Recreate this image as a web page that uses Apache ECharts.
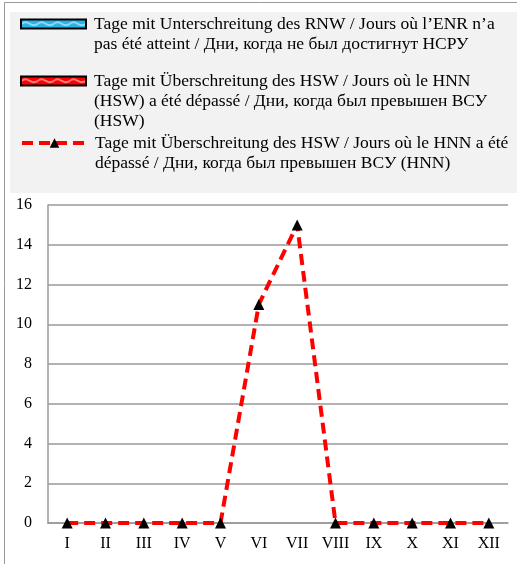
<!DOCTYPE html>
<html>
<head>
<meta charset="utf-8">
<script src="https://cdn.jsdelivr.net/npm/echarts@6/dist/echarts.min.js"></script>
<style>
html, body { margin: 0; padding: 0; background: #fff; }
#main { width: 517px; height: 564px; }
</style>
</head>
<body>
<div id="main"></div>
<script>
var months = ['I', 'II', 'III', 'IV', 'V', 'VI', 'VII', 'VIII', 'IX', 'X', 'XI', 'XII'];
var belowRnw = [0, 0, 0, 0, 0, 0, 0, 0, 0, 0, 0, 0];
var aboveHswBars = [0, 0, 0, 0, 0, 0, 0, 0, 0, 0, 0, 0];
var aboveHnn = [0, 0, 0, 0, 0, 11, 15, 0, 0, 0, 0, 0];
var yTicks = { min: 0, max: 16, step: 2 };

var nameRnw = 'Tage mit Unterschreitung des RNW / Jours où l’ENR n’a\npas été atteint / Дни, когда не был достигнут НСРУ';
var nameHsw = 'Tage mit Überschreitung des HSW / Jours où le HNN\n(HSW) a été dépassé / Дни, когда был превышен ВСУ\n(HSW)';
var nameHnn = 'Tage mit Überschreitung des HSW / Jours où le HNN a été\ndépassé / Дни, когда был превышен ВСУ (HNN)';

// wavy fill like the office pattern swatches
function wavePattern(bg) {
    var c = document.createElement('canvas');
    c.width = 16; c.height = 8;
    var ctx = c.getContext('2d');
    ctx.fillStyle = bg;
    ctx.fillRect(0, 0, 16, 8);
    ctx.strokeStyle = '#fff';
    ctx.lineWidth = 1;
    ctx.beginPath();
    ctx.moveTo(0, 5);
    ctx.quadraticCurveTo(4, 1, 8, 4);
    ctx.quadraticCurveTo(12, 7, 16, 5);
    ctx.stroke();
    return c;
}
var bluePat = { image: wavePattern('#27b4ea'), repeat: 'repeat' };
var redPat = { image: wavePattern('#ff0000'), repeat: 'repeat' };

// legend text is centred on the icon; push it down so the first line sits beside the icon
function topAligned(name) {
    var n = name.split('\n').length;
    return new Array(n).join('\n') + name;
}

var myChart = echarts.init(document.getElementById('main'));

var legendText = {
    fontFamily: 'Liberation Serif',
    fontSize: 17.5,
    lineHeight: 20,
    color: '#000',
    padding: [0, 0, 0, 3]
};

option = {
    backgroundColor: '#fff',
    animation: false,
    graphic: [
        {
            type: 'polyline', z: 0,
            shape: { points: [[4.5, 564], [4.5, 2.5], [517, 2.5]] },
            style: { stroke: '#999', fill: null, lineWidth: 1 }
        },
        {
            type: 'rect', z: 0,
            shape: { x: 10, y: 12, width: 507, height: 181 },
            style: { fill: '#f2f2f2' }
        }
    ],
    legend: [
        {
            left: 20, top: -6, padding: 0,
            itemWidth: 65, itemHeight: 9,
            formatter: topAligned,
            data: [{ name: nameRnw, icon: 'rect',
                     itemStyle: { borderColor: '#000', borderWidth: 2 } }],
            textStyle: legendText
        },
        {
            left: 20, top: 31, padding: 0,
            itemWidth: 65, itemHeight: 9,
            formatter: topAligned,
            data: [{ name: nameHsw, icon: 'rect',
                     itemStyle: { borderColor: '#000', borderWidth: 2 } }],
            textStyle: legendText
        },
        {
            left: 20, top: 113, padding: 0,
            itemWidth: 65, itemHeight: 12,
            formatter: topAligned,
            lineStyle: { width: 4 },
            data: [{ name: nameHnn }],
            textStyle: legendText
        }
    ],
    grid: {
        left: 48,
        right: 9,
        top: 205,
        bottom: 41
    },
    xAxis: {
        type: 'category',
        data: months,
        axisTick: { show: false },
        axisLine: { lineStyle: { color: '#999', width: 1.5 } },
        axisLabel: {
            margin: 13,
            interval: 0,
            fontFamily: 'Liberation Serif',
            fontSize: 16,
            color: '#000'
        }
    },
    yAxis: {
        type: 'value',
        min: yTicks.min,
        max: yTicks.max,
        interval: yTicks.step,
        axisLine: { show: true, lineStyle: { color: '#999', width: 1.5 } },
        axisTick: { show: false },
        splitLine: { lineStyle: { color: '#999', width: 1.5 } },
        axisLabel: {
            margin: 16,
            fontFamily: 'Liberation Serif',
            fontSize: 16,
            color: '#000'
        }
    },
    series: [
        {
            name: nameRnw,
            type: 'bar',
            data: belowRnw,
            itemStyle: { color: bluePat, borderWidth: 0 }
        },
        {
            name: nameHsw,
            type: 'bar',
            data: aboveHswBars,
            itemStyle: { color: redPat, borderWidth: 0 }
        },
        {
            name: nameHnn,
            type: 'line',
            data: aboveHnn,
            symbol: 'triangle',
            symbolSize: 11,
            itemStyle: { color: '#000' },
            lineStyle: { color: '#ff0000', width: 4, type: [11, 6] },
            z: 5
        }
    ]
};

myChart.setOption(option);
</script>
</body>
</html>
